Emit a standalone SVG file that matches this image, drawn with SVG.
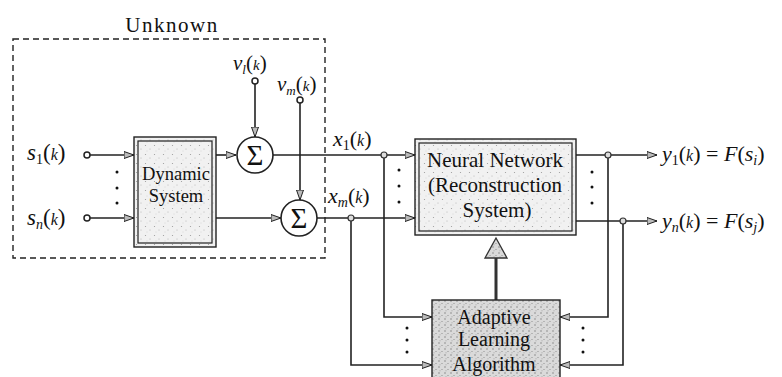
<svg xmlns="http://www.w3.org/2000/svg" width="782" height="377" viewBox="0 0 782 377">
<defs>
<style>
.ln{fill:none;stroke:#222;stroke-width:1.6}
.ar{fill:none;stroke:#222;stroke-width:1.6;marker-end:url(#ah)}
.box{stroke:#222;stroke-width:1.4}
.jn{fill:#ddd;stroke:#333;stroke-width:1.2}
.io{fill:#fff;stroke:#222;stroke-width:1.5}
.dot{fill:#111}
text{font-family:'Liberation Serif',serif;fill:#111}
.m{font-style:italic}
</style>
<pattern id="stip" width="9" height="9" patternUnits="userSpaceOnUse">
<rect width="9" height="9" fill="#f1f1f1"/>
<circle cx="1.5" cy="1.5" r="0.6" fill="#999"/>
<circle cx="6" cy="5" r="0.5" fill="#aaa"/>
<circle cx="3" cy="7" r="0.4" fill="#bbb"/>
</pattern>
<pattern id="stip2" width="6" height="6" patternUnits="userSpaceOnUse">
<rect width="6" height="6" fill="#dadada"/>
<circle cx="1" cy="1" r="0.7" fill="#777"/>
<circle cx="4" cy="3.5" r="0.6" fill="#888"/>
<circle cx="2" cy="4.8" r="0.5" fill="#999"/>
</pattern>
<marker id="ah" viewBox="0 0 10 8" refX="10" refY="4" markerWidth="10" markerHeight="8" markerUnits="userSpaceOnUse" orient="auto">
<path d="M0,0.5 L10,4 L0,7.5 Z" fill="#bbb" stroke="#222" stroke-width="1"/>
</marker>
</defs>
<rect width="782" height="377" fill="#fff"/>

<g id="unknown">
<rect x="13" y="39" width="312" height="219" fill="none" stroke="#222" stroke-width="1.4" stroke-dasharray="6,4"/>
<text font-family="'Liberation Serif', serif" x="172" y="32" font-size="21" text-anchor="middle" letter-spacing="1.5">Unknown</text>
</g>

<g id="connectors">
<line class="ar" x1="90" y1="155" x2="134" y2="155"/>
<line class="ar" x1="90" y1="218" x2="134" y2="218"/>
<line class="ar" x1="216" y1="155" x2="236" y2="155"/>
<line class="ar" x1="216" y1="218" x2="281" y2="218"/>
<line class="ar" x1="255" y1="84" x2="255" y2="137"/>
<line class="ar" x1="300" y1="103" x2="300" y2="200"/>
<line class="ar" x1="273" y1="155" x2="415" y2="155"/>
<line class="ar" x1="317" y1="218" x2="415" y2="218"/>
<line class="ar" x1="576" y1="155" x2="657" y2="155"/>
<line class="ar" x1="576" y1="221" x2="657" y2="221"/>
<polyline class="ar" points="384,155 384,317 432,317"/>
<polyline class="ar" points="351,218 351,365 432,365"/>
<polyline class="ar" points="608,155 608,317 560,317"/>
<polyline class="ar" points="623,221 623,365 560,365"/>
<line x1="496" y1="300" x2="496" y2="256" stroke="#333" stroke-width="3"/>
<polygon points="496,238 485,258 507,258" fill="url(#stip2)" stroke="#333" stroke-width="1.3"/>
<circle class="jn" cx="384" cy="155" r="3"/>
<circle class="jn" cx="351" cy="218" r="3"/>
<circle class="jn" cx="608" cy="155" r="3"/>
<circle class="jn" cx="623" cy="221" r="3"/>
</g>

<g id="inputs">
<circle class="io" cx="87" cy="155" r="3"/>
<circle class="io" cx="87" cy="218" r="3"/>
<circle class="io" cx="255" cy="81" r="3"/>
<circle class="io" cx="300" cy="100" r="3"/>
<text class="m" font-family="'Liberation Serif', serif" x="27" y="160" font-size="23">s<tspan font-style="normal" font-size="14" dy="4">1</tspan><tspan font-style="normal" dy="-4">(</tspan><tspan font-size="16">k</tspan><tspan font-style="normal">)</tspan></text>
<text class="m" font-family="'Liberation Serif', serif" x="27" y="225" font-size="23">s<tspan font-size="14" dy="4">n</tspan><tspan font-style="normal" dy="-4">(</tspan><tspan font-size="16">k</tspan><tspan font-style="normal">)</tspan></text>
<text class="m" font-family="'Liberation Serif', serif" x="233" y="70" font-size="21">v<tspan font-size="13" dy="4">l</tspan><tspan font-style="normal" dy="-4">(</tspan><tspan font-size="15">k</tspan><tspan font-style="normal">)</tspan></text>
<text class="m" font-family="'Liberation Serif', serif" x="277" y="91" font-size="21">v<tspan font-size="13" dy="4">m</tspan><tspan font-style="normal" dy="-4">(</tspan><tspan font-size="15">k</tspan><tspan font-style="normal">)</tspan></text>
<text class="m" font-family="'Liberation Serif', serif" x="333" y="146" font-size="22">x<tspan font-style="normal" font-size="14" dy="4">1</tspan><tspan font-style="normal" dy="-4">(</tspan><tspan font-size="16">k</tspan><tspan font-style="normal">)</tspan></text>
<text class="m" font-family="'Liberation Serif', serif" x="328" y="203" font-size="22">x<tspan font-size="14" dy="4">m</tspan><tspan font-style="normal" dy="-4">(</tspan><tspan font-size="16">k</tspan><tspan font-style="normal">)</tspan></text>
</g>

<g id="dots">
<circle class="dot" cx="117" cy="172" r="1.5"/><circle class="dot" cx="117" cy="188" r="1.5"/><circle class="dot" cx="117" cy="203" r="1.5"/>
<circle class="dot" cx="399" cy="170" r="1.5"/><circle class="dot" cx="399" cy="186" r="1.5"/><circle class="dot" cx="399" cy="202" r="1.5"/>
<circle class="dot" cx="592" cy="172" r="1.5"/><circle class="dot" cx="592" cy="187" r="1.5"/><circle class="dot" cx="592" cy="203" r="1.5"/>
<circle class="dot" cx="407" cy="328" r="1.5"/><circle class="dot" cx="407" cy="340" r="1.5"/><circle class="dot" cx="407" cy="352" r="1.5"/>
<circle class="dot" cx="583" cy="328" r="1.5"/><circle class="dot" cx="583" cy="340" r="1.5"/><circle class="dot" cx="583" cy="352" r="1.5"/>
</g>

<g id="dynamic-system">
<rect class="box" x="134" y="137" width="82" height="110" fill="url(#stip)"/>
<rect x="138" y="141" width="74" height="102" fill="none" stroke="#222" stroke-width="1.2"/>
<text font-family="'Liberation Serif', serif" x="176" y="180" font-size="18.5" text-anchor="middle">Dynamic</text>
<text font-family="'Liberation Serif', serif" x="176" y="202" font-size="18.5" text-anchor="middle">System</text>
</g>

<g id="sum1">
<circle cx="255" cy="155" r="18" fill="#fff" stroke="#222" stroke-width="1.6"/>
<text font-family="'Liberation Serif', serif" x="255" y="165" font-size="29" text-anchor="middle">Σ</text>
</g>

<g id="sum2">
<circle cx="299" cy="218" r="18" fill="#fff" stroke="#222" stroke-width="1.6"/>
<text font-family="'Liberation Serif', serif" x="299" y="228" font-size="29" text-anchor="middle">Σ</text>
</g>

<g id="neural-network">
<rect class="box" x="415" y="139" width="161" height="96" fill="url(#stip)"/>
<rect x="419" y="143" width="153" height="88" fill="none" stroke="#222" stroke-width="1.2"/>
<text font-family="'Liberation Serif', serif" x="495" y="167" font-size="21" text-anchor="middle">Neural Network</text>
<text font-family="'Liberation Serif', serif" x="495" y="192" font-size="21" text-anchor="middle">(Reconstruction</text>
<text font-family="'Liberation Serif', serif" x="497" y="217" font-size="21" text-anchor="middle">System)</text>
</g>

<g id="adaptive-learning">
<rect class="box" x="432" y="300" width="128" height="82" fill="url(#stip2)"/>
<text font-family="'Liberation Serif', serif" x="494" y="324" font-size="20" text-anchor="middle">Adaptive</text>
<text font-family="'Liberation Serif', serif" x="494" y="346" font-size="20" text-anchor="middle">Learning</text>
<text font-family="'Liberation Serif', serif" x="494" y="371" font-size="20" text-anchor="middle">Algorithm</text>
</g>

<g id="outputs">
<text class="m" font-family="'Liberation Serif', serif" x="662" y="161" font-size="22">y<tspan font-style="normal" font-size="14" dy="4">1</tspan><tspan font-style="normal" dy="-4">(</tspan><tspan font-size="16">k</tspan><tspan font-style="normal">) = </tspan>F<tspan font-style="normal">(</tspan>s<tspan font-size="14" dy="4">i</tspan><tspan font-style="normal" dy="-4">)</tspan></text>
<text class="m" font-family="'Liberation Serif', serif" x="662" y="228" font-size="22">y<tspan font-size="14" dy="4">n</tspan><tspan font-style="normal" dy="-4">(</tspan><tspan font-size="16">k</tspan><tspan font-style="normal">) = </tspan>F<tspan font-style="normal">(</tspan>s<tspan font-size="14" dy="4">j</tspan><tspan font-style="normal" dy="-4">)</tspan></text>
</g>
</svg>
